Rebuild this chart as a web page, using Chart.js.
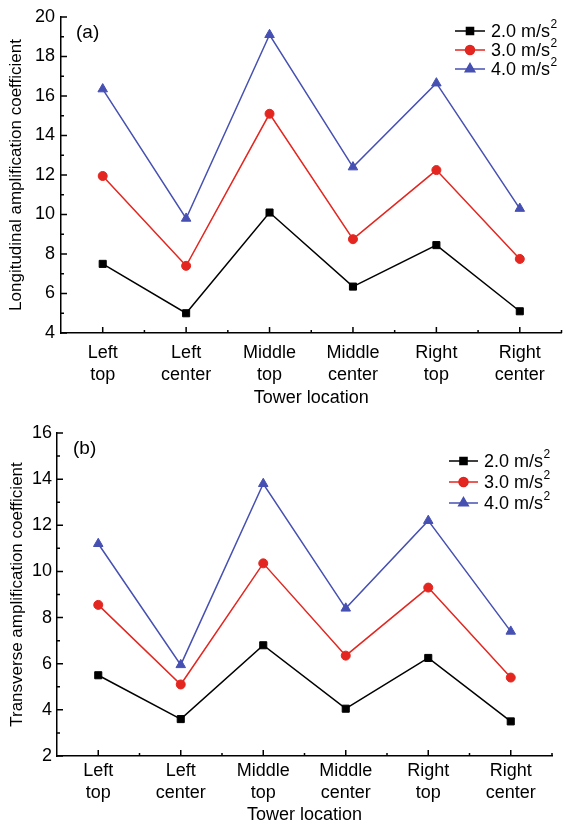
<!DOCTYPE html>
<html>
<head>
<meta charset="utf-8">
<script src="https://cdn.jsdelivr.net/npm/chart.js@4.4.1/dist/chart.umd.min.js"></script>
<style>
html, body { margin: 0; padding: 0; background: #fff; }
#wrapA { position: absolute; left: 0; top: 0; width: 568px; height: 412px; }
#wrapB { position: absolute; left: 0; top: 412px; width: 568px; height: 414px; }
</style>
</head>
<body>
<div id="wrapA"><canvas id="chartA"></canvas></div>
<div id="wrapB"><canvas id="chartB"></canvas></div>
<script>
// categories
var locations = [['Left', 'top'], ['Left', 'center'], ['Middle', 'top'], ['Middle', 'center'], ['Right', 'top'], ['Right', 'center']];
var seriesNames = ['2.0 m/s', '3.0 m/s', '4.0 m/s'];

// (a) longitudinal amplification coefficient
var longi20 = [7.5, 5.0, 10.1, 6.35, 8.45, 5.1];
var longi30 = [11.95, 7.4, 15.1, 8.75, 12.25, 7.75];
var longi40 = [16.35, 9.8, 19.1, 12.4, 16.65, 10.3];
var yTicksA = [4, 6, 8, 10, 12, 14, 16, 18, 20];

// (b) transverse amplification coefficient
var trans20 = [5.5, 3.6, 6.8, 4.05, 6.25, 3.5];
var trans30 = [8.55, 5.1, 10.35, 6.35, 9.3, 5.4];
var trans40 = [11.2, 5.95, 13.8, 8.4, 12.2, 7.4];
var yTicksB = [2, 4, 6, 8, 10, 12, 14, 16];

var colors = ['#000000', '#e3261f', '#4650b2'];
var shapes = ['rect', 'circle', 'triangle'];
var radii = [5, 4.5, 5.5];
var FONT = '"Liberation Sans", Arial, sans-serif';

// inward tick marks, panel letter and legend
var decoPlugin = {
  id: 'deco',
  afterDraw: function (chart, args, opts) {
    var ctx = chart.ctx;
    var xs = chart.scales.x, ys = chart.scales.y;
    var area = chart.chartArea;
    ctx.save();
    ctx.strokeStyle = '#000';
    ctx.lineWidth = 1.5;
    ctx.beginPath();
    // y ticks
    for (var v = ys.min; v <= ys.max; v += 1) {
      var py = ys.getPixelForValue(v);
      var len = (v % 2 === 0) ? 6 : 3;
      ctx.moveTo(area.left, py);
      ctx.lineTo(area.left + len, py);
    }
    // x ticks
    for (var i = 0; i < locations.length; i++) {
      var px = xs.getPixelForValue(i);
      ctx.moveTo(px, area.bottom);
      ctx.lineTo(px, area.bottom - 6);
      var pm = xs.getPixelForValue(i + 0.5);
      ctx.moveTo(pm, area.bottom);
      ctx.lineTo(pm, area.bottom - 3);
    }
    ctx.stroke();

    // panel letter
    ctx.fillStyle = '#000';
    ctx.font = '19px ' + FONT;
    ctx.textBaseline = 'middle';
    ctx.textAlign = 'left';
    ctx.fillText(opts.panel, opts.panelX, opts.panelY);

    // legend
    chart.data.datasets.forEach(function (ds, k) {
      var y = opts.rows[k];
      ctx.strokeStyle = ds.borderColor;
      ctx.lineWidth = 1.5;
      ctx.beginPath();
      ctx.moveTo(opts.lineX0, y);
      ctx.lineTo(opts.lineX1, y);
      ctx.stroke();
      Chart.helpers.drawPoint(ctx, {
        pointStyle: ds.pointStyle, radius: ds.pointRadius, borderWidth: 1
      }, (opts.lineX0 + opts.lineX1) / 2, y);
      ctx.fillStyle = ds.borderColor;
      ctx.fill();
      ctx.fillStyle = '#000';
      ctx.font = '18px ' + FONT;
      ctx.textBaseline = 'middle';
      ctx.fillText(ds.label, opts.textX, y + 1);
      var w = ctx.measureText(ds.label).width;
      ctx.font = '12px ' + FONT;
      ctx.fillText('2', opts.textX + w + 0.5, y - 6);
    });
    ctx.restore();
  }
};

function makeChart(id, series, yTicks, yTitle, lay) {
  var datasets = series.map(function (vals, k) {
    return {
      label: seriesNames[k],
      data: vals,
      borderColor: colors[k],
      backgroundColor: colors[k],
      pointBackgroundColor: colors[k],
      pointBorderColor: colors[k],
      pointStyle: shapes[k],
      pointRadius: radii[k],
      pointBorderWidth: 1,
      borderWidth: 1.5,
      tension: 0,
      clip: false
    };
  });
  return new Chart(document.getElementById(id), {
    type: 'line',
    data: { labels: locations, datasets: datasets },
    options: {
      responsive: true,
      maintainAspectRatio: false,
      animation: false,
      layout: { padding: { top: lay.top, right: lay.right, left: 0, bottom: 0 } },
      plugins: {
        legend: { display: false },
        tooltip: { enabled: false },
        deco: lay.deco
      },
      scales: {
        x: {
          type: 'category',
          offset: true,
          grid: { display: false, drawTicks: false },
          border: { display: true, color: '#000', width: 1.5 },
          ticks: {
            color: '#000', padding: lay.xPad, maxRotation: 0, autoSkip: false,
            font: { family: FONT, size: 18, lineHeight: 1.22 }
          },
          title: {
            display: true, text: 'Tower location', color: '#000',
            font: { family: FONT, size: 18 }, padding: { top: 0, bottom: lay.xTitlePad }
          },
          afterFit: function (s) { s.height = lay.xHeight; }
        },
        y: {
          min: yTicks[0],
          max: yTicks[yTicks.length - 1],
          grid: { display: false, drawTicks: false },
          border: { display: true, color: '#000', width: 1.5 },
          afterBuildTicks: function (s) { s.ticks = yTicks.map(function (v) { return { value: v }; }); },
          ticks: { color: '#000', padding: lay.yPad, font: { family: FONT, size: 18 } },
          title: {
            display: true, text: yTitle, color: '#000',
            font: { family: FONT, size: 17 }, padding: { top: lay.yTitlePad, bottom: 0 }
          },
          afterFit: function (s) { s.width = lay.yWidth; }
        }
      }
    },
    plugins: [decoPlugin]
  });
}

makeChart('chartA', [longi20, longi30, longi40], yTicksA, 'Longitudinal amplification coefficient', {
  top: 17, right: 0, yWidth: 61, xHeight: 79, xPad: 9, xTitlePad: 3, yPad: 6, yTitlePad: 6,
  deco: { panel: '(a)', panelX: 76, panelY: 33, lineX0: 455, lineX1: 485, textX: 491, rows: [31, 50, 69] }
});

makeChart('chartB', [trans20, trans30, trans40], yTicksB, 'Transverse amplification coefficient', {
  top: 21, right: 16, yWidth: 57, xHeight: 70, xPad: 4, xTitlePad: 0, yPad: 5, yTitlePad: 7,
  deco: { panel: '(b)', panelX: 73, panelY: 37, lineX0: 449, lineX1: 478, textX: 484, rows: [49, 70, 91] }
});
</script>
</body>
</html>
